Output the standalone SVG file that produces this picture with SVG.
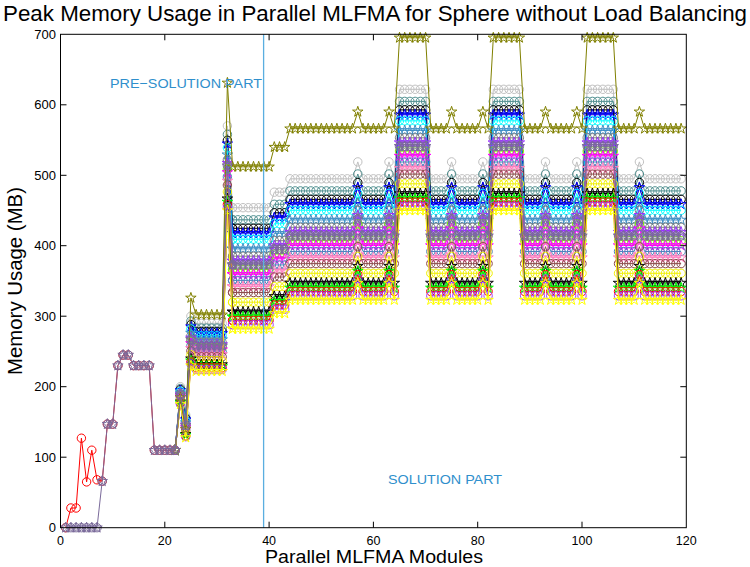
<svg xmlns="http://www.w3.org/2000/svg" xmlns:xlink="http://www.w3.org/1999/xlink" width="750" height="567" viewBox="0 0 750 567">
<style>
  text { font-family: "Liberation Sans", Arial, Helvetica, sans-serif; fill: #000; }
  .tick { font-size: 13px; }
  .xtick { font-size: 12.5px; }
  .axis { fill: none; stroke: #000; stroke-width: 1; }
  .series { fill: none; stroke-width: 1; }
  .mk * { fill: none; stroke-width: 1; }
  .note { font-size: 13.5px; fill: #2f8fcc; }
</style>
<defs>
  <!-- marker glyphs: pentagram and ring, centred on the data point -->
  <path id="pstar" d="M0,-5.5L1.23,-1.7L5.23,-1.7L2,0.65L3.23,4.45L0,2.1L-3.23,4.45L-2,0.65L-5.23,-1.7L-1.23,-1.7Z"/>
  <circle id="ring" r="4.2"/>

  <marker id="k01" class="mk" stroke="#ffff00" markerUnits="userSpaceOnUse" viewBox="-7 -7 14 14" markerWidth="14" markerHeight="14" refX="0" refY="0"><use href="#pstar"/></marker>
  <marker id="k02" class="mk" stroke="#a040ff" markerUnits="userSpaceOnUse" viewBox="-7 -7 14 14" markerWidth="14" markerHeight="14" refX="0" refY="0"><use href="#ring"/></marker>
  <marker id="k03" class="mk" stroke="#ff0000" markerUnits="userSpaceOnUse" viewBox="-7 -7 14 14" markerWidth="14" markerHeight="14" refX="0" refY="0"><use href="#ring"/></marker>
  <marker id="k04" class="mk" stroke="#00ff00" markerUnits="userSpaceOnUse" viewBox="-7 -7 14 14" markerWidth="14" markerHeight="14" refX="0" refY="0"><use href="#pstar"/></marker>
  <marker id="k05" class="mk" stroke="#000000" markerUnits="userSpaceOnUse" viewBox="-7 -7 14 14" markerWidth="14" markerHeight="14" refX="0" refY="0"><use href="#pstar"/></marker>
  <marker id="k06" class="mk" stroke="#f0f000" markerUnits="userSpaceOnUse" viewBox="-7 -7 14 14" markerWidth="14" markerHeight="14" refX="0" refY="0"><use href="#ring"/></marker>
  <marker id="k07" class="mk" stroke="#8c4c4c" markerUnits="userSpaceOnUse" viewBox="-7 -7 14 14" markerWidth="14" markerHeight="14" refX="0" refY="0"><use href="#ring"/></marker>
  <marker id="k08" class="mk" stroke="#ff7fbf" markerUnits="userSpaceOnUse" viewBox="-7 -7 14 14" markerWidth="14" markerHeight="14" refX="0" refY="0"><use href="#pstar"/></marker>
  <marker id="k09" class="mk" stroke="#4f81bd" markerUnits="userSpaceOnUse" viewBox="-7 -7 14 14" markerWidth="14" markerHeight="14" refX="0" refY="0"><use href="#ring"/></marker>
  <marker id="k10" class="mk" stroke="#ff00ff" markerUnits="userSpaceOnUse" viewBox="-7 -7 14 14" markerWidth="14" markerHeight="14" refX="0" refY="0"><use href="#pstar"/></marker>
  <marker id="k11" class="mk" stroke="#7fff00" markerUnits="userSpaceOnUse" viewBox="-7 -7 14 14" markerWidth="14" markerHeight="14" refX="0" refY="0"><use href="#ring"/></marker>
  <marker id="k12" class="mk" stroke="#9933ff" markerUnits="userSpaceOnUse" viewBox="-7 -7 14 14" markerWidth="14" markerHeight="14" refX="0" refY="0"><use href="#pstar"/></marker>
  <marker id="k13" class="mk" stroke="#808080" markerUnits="userSpaceOnUse" viewBox="-7 -7 14 14" markerWidth="14" markerHeight="14" refX="0" refY="0"><use href="#ring"/></marker>
  <marker id="k14" class="mk" stroke="#3d8fc6" markerUnits="userSpaceOnUse" viewBox="-7 -7 14 14" markerWidth="14" markerHeight="14" refX="0" refY="0"><use href="#pstar"/></marker>
  <marker id="k15" class="mk" stroke="#00ffff" markerUnits="userSpaceOnUse" viewBox="-7 -7 14 14" markerWidth="14" markerHeight="14" refX="0" refY="0"><use href="#ring"/></marker>
  <marker id="k16" class="mk" stroke="#0000ff" markerUnits="userSpaceOnUse" viewBox="-7 -7 14 14" markerWidth="14" markerHeight="14" refX="0" refY="0"><use href="#pstar"/></marker>
  <marker id="k17" class="mk" stroke="#000000" markerUnits="userSpaceOnUse" viewBox="-7 -7 14 14" markerWidth="14" markerHeight="14" refX="0" refY="0"><use href="#ring"/></marker>
  <marker id="k18" class="mk" stroke="#4f8f8f" markerUnits="userSpaceOnUse" viewBox="-7 -7 14 14" markerWidth="14" markerHeight="14" refX="0" refY="0"><use href="#ring"/></marker>
  <marker id="k19" class="mk" stroke="#c0c0c0" markerUnits="userSpaceOnUse" viewBox="-7 -7 14 14" markerWidth="14" markerHeight="14" refX="0" refY="0"><use href="#ring"/></marker>
  <marker id="k20" class="mk" stroke="#808000" markerUnits="userSpaceOnUse" viewBox="-7 -7 14 14" markerWidth="14" markerHeight="14" refX="0" refY="0"><use href="#pstar"/></marker>
  <marker id="k21" class="mk" stroke="#7a6a9a" markerUnits="userSpaceOnUse" viewBox="-7 -7 14 14" markerWidth="14" markerHeight="14" refX="0" refY="0"><use href="#ring"/><use href="#pstar"/></marker>

  <!-- baseline profile of the solution phase (modules 33-119); each process is this curve shifted up -->
  <polyline id="lo" points="232.6,328.9 237.8,328.9 243.0,328.9 248.2,328.9 253.5,328.9 258.7,328.9 263.9,328.9 269.1,328.9 274.3,313.4 279.5,313.4 284.7,313.4 290.0,300 295.2,300 300.4,300 305.6,300 310.8,300 316.0,300 321.3,300 326.5,300 331.7,300 336.9,300 342.1,300 347.3,300 352.5,300 357.8,283.1 363.0,300 368.2,300 373.4,300 378.6,300 383.8,300 389.0,283.1 394.3,300 399.5,210.5 404.7,210.5 409.9,210.5 415.1,210.5 420.3,210.5 425.6,210.5 430.8,300 436.0,300 441.2,300 446.4,300 451.6,283.1 456.8,300 462.1,300 467.3,300 472.5,300 477.7,300 482.9,283.1 488.1,300 493.3,210.5 498.6,210.5 503.8,210.5 509.0,210.5 514.2,210.5 519.4,210.5 524.6,300 529.9,300 535.1,300 540.3,300 545.5,283.1 550.7,300 555.9,300 561.1,300 566.4,300 571.6,300 576.8,283.1 582.0,300 587.2,210.5 592.4,210.5 597.6,210.5 602.9,210.5 608.1,210.5 613.3,210.5 618.5,300 623.7,300 628.9,300 634.2,300 639.4,283.1 644.6,300 649.8,300 655.0,300 660.2,300 665.4,300 670.7,300 675.9,300 681.1,300"/>
</defs>

<rect width="750" height="567" fill="#fff"/>

<!-- title and axis labels -->
<text x="375" y="21" font-size="22.3" text-anchor="middle" textLength="744" lengthAdjust="spacingAndGlyphs">Peak Memory Usage in Parallel MLFMA for Sphere without Load Balancing</text>
<text x="374" y="563.2" font-size="17.5" text-anchor="middle" textLength="218" lengthAdjust="spacingAndGlyphs">Parallel MLFMA Modules</text>
<text transform="translate(21.5,281) rotate(-90)" font-size="19.5" text-anchor="middle" textLength="188" lengthAdjust="spacingAndGlyphs">Memory Usage (MB)</text>

<!-- memory curves, one per process -->
<g id="series">
  <g id="s19" class="series" stroke="#c0c0c0" marker-start="url(#k19)" marker-mid="url(#k19)" marker-end="url(#k19)">
    <polyline points="175.2,450.2 180.4,386.7 185.7,414.9 190.9,316.2 196.1,323.3 201.3,323.3 206.5,323.3 211.7,323.3 217.0,323.3 222.2,323.3 227.4,125.9 232.6,207.7"/>
    <use href="#lo" transform="translate(0,-121.2)"/>
  </g>
  <g id="s18" class="series" stroke="#4f8f8f" marker-start="url(#k18)" marker-mid="url(#k18)" marker-end="url(#k18)">
    <polyline points="175.2,450.2 180.4,388.5 185.7,417.2 190.9,321.1 196.1,328.1 201.3,328.1 206.5,328.1 211.7,328.1 217.0,328.1 222.2,328.1 227.4,134.4 232.6,219.8"/>
    <use href="#lo" transform="translate(0,-109.1)"/>
  </g>
  <g id="s17" class="series" stroke="#000000" marker-start="url(#k17)" marker-mid="url(#k17)" marker-end="url(#k17)">
    <polyline points="175.2,450.2 180.4,389.7 185.7,418.7 190.9,324.6 196.1,331.4 201.3,331.4 206.5,331.4 211.7,331.4 217.0,331.4 222.2,331.4 227.4,140.3 232.6,228.3"/>
    <use href="#lo" transform="translate(0,-100.6)"/>
  </g>
  <g id="s16" class="series" stroke="#0000ff" marker-start="url(#k16)" marker-mid="url(#k16)" marker-end="url(#k16)">
    <polyline points="175.2,450.2 180.4,390.4 185.7,419.6 190.9,326.6 196.1,333.4 201.3,333.4 206.5,333.4 211.7,333.4 217.0,333.4 222.2,333.4 227.4,143.7 232.6,233.2"/>
    <use href="#lo" transform="translate(0,-95.7)"/>
  </g>
  <g id="s15" class="series" stroke="#00ffff" marker-start="url(#k15)" marker-mid="url(#k15)" marker-end="url(#k15)">
    <polyline points="175.2,450.2 180.4,391.3 185.7,420.8 190.9,329.0 196.1,335.8 201.3,335.8 206.5,335.8 211.7,335.8 217.0,335.8 222.2,335.8 227.4,147.9 232.6,239.2"/>
    <use href="#lo" transform="translate(0,-89.7)"/>
  </g>
  <g id="s14" class="series" stroke="#3d8fc6" marker-start="url(#k14)" marker-mid="url(#k14)" marker-end="url(#k14)">
    <polyline points="175.2,450.2 180.4,392.7 185.7,422.6 190.9,333.0 196.1,339.6 201.3,339.6 206.5,339.6 211.7,339.6 217.0,339.6 222.2,339.6 227.4,154.7 232.6,248.9"/>
    <use href="#lo" transform="translate(0,-80.0)"/>
  </g>
  <g id="s13" class="series" stroke="#808080" marker-start="url(#k13)" marker-mid="url(#k13)" marker-end="url(#k13)">
    <polyline points="175.2,450.2 180.4,393.7 185.7,423.9 190.9,336.0 196.1,342.5 201.3,342.5 206.5,342.5 211.7,342.5 217.0,342.5 222.2,342.5 227.4,159.7 232.6,256.2"/>
    <use href="#lo" transform="translate(0,-72.7)"/>
  </g>
  <g id="s12" class="series" stroke="#9933ff" marker-start="url(#k12)" marker-mid="url(#k12)" marker-end="url(#k12)">
    <polyline points="175.2,450.2 180.4,394.4 185.7,424.8 190.9,337.9 196.1,344.4 201.3,344.4 206.5,344.4 211.7,344.4 217.0,344.4 222.2,344.4 227.4,163.1 232.6,261.0"/>
    <use href="#lo" transform="translate(0,-67.9)"/>
  </g>
  <g id="s11" class="series" stroke="#7fff00" marker-start="url(#k11)" marker-mid="url(#k11)" marker-end="url(#k11)">
    <polyline points="175.2,450.2 180.4,395.7 185.7,426.4 190.9,341.4 196.1,347.7 201.3,347.7 206.5,347.7 211.7,347.7 217.0,347.7 222.2,347.7 227.4,169.0 232.6,269.5"/>
    <use href="#lo" transform="translate(0,-59.4)"/>
  </g>
  <g id="s10" class="series" stroke="#ff00ff" marker-start="url(#k10)" marker-mid="url(#k10)" marker-end="url(#k10)">
    <polyline points="175.2,450.2 180.4,396.4 185.7,427.3 190.9,343.4 196.1,349.6 201.3,349.6 206.5,349.6 211.7,349.6 217.0,349.6 222.2,349.6 227.4,172.4 232.6,274.4"/>
    <use href="#lo" transform="translate(0,-54.5)"/>
  </g>
  <g id="s09" class="series" stroke="#4f81bd" marker-start="url(#k09)" marker-mid="url(#k09)" marker-end="url(#k09)">
    <polyline points="175.2,450.2 180.4,397.3 185.7,428.5 190.9,345.8 196.1,352.0 201.3,352.0 206.5,352.0 211.7,352.0 217.0,352.0 222.2,352.0 227.4,176.7 232.6,280.4"/>
    <use href="#lo" transform="translate(0,-48.5)"/>
  </g>
  <g id="s08" class="series" stroke="#ff7fbf" marker-start="url(#k08)" marker-mid="url(#k08)" marker-end="url(#k08)">
    <polyline points="175.2,450.2 180.4,398.1 185.7,429.6 190.9,348.3 196.1,354.4 201.3,354.4 206.5,354.4 211.7,354.4 217.0,354.4 222.2,354.4 227.4,180.9 232.6,286.5"/>
    <use href="#lo" transform="translate(0,-42.4)"/>
  </g>
  <g id="s07" class="series" stroke="#8c4c4c" marker-start="url(#k07)" marker-mid="url(#k07)" marker-end="url(#k07)">
    <polyline points="175.2,450.2 180.4,399.0 185.7,430.7 190.9,350.8 196.1,356.8 201.3,356.8 206.5,356.8 211.7,356.8 217.0,356.8 222.2,356.8 227.4,185.1 232.6,292.5"/>
    <use href="#lo" transform="translate(0,-36.4)"/>
  </g>
  <g id="s06" class="series" stroke="#f0f000" marker-start="url(#k06)" marker-mid="url(#k06)" marker-end="url(#k06)">
    <polyline points="175.2,450.2 180.4,400.4 185.7,432.5 190.9,354.7 196.1,360.7 201.3,360.7 206.5,360.7 211.7,360.7 217.0,360.7 222.2,360.7 227.4,191.9 232.6,302.2"/>
    <use href="#lo" transform="translate(0,-26.7)"/>
  </g>
  <g id="s05" class="series" stroke="#000000" marker-start="url(#k05)" marker-mid="url(#k05)" marker-end="url(#k05)">
    <polyline points="175.2,450.2 180.4,401.8 185.7,434.3 190.9,358.7 196.1,364.5 201.3,364.5 206.5,364.5 211.7,364.5 217.0,364.5 222.2,364.5 227.4,198.7 232.6,311.9"/>
    <use href="#lo" transform="translate(0,-17.0)"/>
  </g>
  <g id="s04" class="series" stroke="#00ff00" marker-start="url(#k04)" marker-mid="url(#k04)" marker-end="url(#k04)">
    <polyline points="175.2,450.2 180.4,402.5 185.7,435.2 190.9,360.7 196.1,366.4 201.3,366.4 206.5,366.4 211.7,366.4 217.0,366.4 222.2,366.4 227.4,202.0 232.6,316.8"/>
    <use href="#lo" transform="translate(0,-12.1)"/>
  </g>
  <g id="s03" class="series" stroke="#ff0000" marker-start="url(#k03)" marker-mid="url(#k03)" marker-end="url(#k03)">
    <polyline points="65.7,527.7 70.9,508.0 76.1,508.0 81.4,438.2 86.6,481.9 91.8,450.2 97.0,479.8 102.2,481.2 107.4,424.1 112.7,424.1 117.9,365.6 123.1,355.0 128.3,355.0 133.5,365.6 138.7,365.6 143.9,365.6 149.2,365.6 154.4,450.2 159.6,450.2 164.8,450.2 170.0,450.2 175.2,450.2 180.4,403.1 185.7,435.9 190.9,362.1 196.1,367.8 201.3,367.8 206.5,367.8 211.7,367.8 217.0,367.8 222.2,367.8 227.4,204.6 232.6,320.4"/>
    <use href="#lo" transform="translate(0,-8.5)"/>
  </g>
  <g id="s02" class="series" stroke="#a040ff" marker-start="url(#k02)" marker-mid="url(#k02)" marker-end="url(#k02)">
    <polyline points="175.2,450.2 180.4,403.7 185.7,436.7 190.9,363.9 196.1,369.5 201.3,369.5 206.5,369.5 211.7,369.5 217.0,369.5 222.2,369.5 227.4,207.5 232.6,324.7"/>
    <use href="#lo" transform="translate(0,-4.2)"/>
  </g>
  <g id="s01" class="series" stroke="#ffff00" marker-start="url(#k01)" marker-mid="url(#k01)" marker-end="url(#k01)">
    <polyline points="175.2,450.2 180.4,404.3 185.7,437.5 190.9,365.6 196.1,371.2 201.3,371.2 206.5,371.2 211.7,371.2 217.0,371.2 222.2,371.2 227.4,210.5 232.6,328.9"/>
    <use href="#lo"/>
  </g>
  <g id="s20" class="series" stroke="#808000" marker-start="url(#k20)" marker-mid="url(#k20)" marker-end="url(#k20)">
    <polyline points="175.2,450.2 180.4,397.3 185.7,429.0 190.9,297.9 196.1,314.8 201.3,314.8 206.5,314.8 211.7,314.8 217.0,314.8 222.2,314.8 227.4,82.9 232.6,166.8 237.8,166.8 243.0,166.8 248.2,166.8 253.5,166.8 258.7,166.8 263.9,166.8 269.1,166.8 274.3,147.1 279.5,147.1 284.7,147.1 290.0,128.7 295.2,128.7 300.4,128.7 305.6,128.7 310.8,128.7 316.0,128.7 321.3,128.7 326.5,128.7 331.7,128.7 336.9,128.7 342.1,128.7 347.3,128.7 352.5,128.7 357.8,111.8 363.0,128.7 368.2,128.7 373.4,128.7 378.6,128.7 383.8,128.7 389.0,111.8 394.3,128.7 399.5,37.8 404.7,37.8 409.9,37.8 415.1,37.8 420.3,37.8 425.6,37.8 430.8,128.7 436.0,128.7 441.2,128.7 446.4,128.7 451.6,111.8 456.8,128.7 462.1,128.7 467.3,128.7 472.5,128.7 477.7,128.7 482.9,111.8 488.1,128.7 493.3,37.8 498.6,37.8 503.8,37.8 509.0,37.8 514.2,37.8 519.4,37.8 524.6,128.7 529.9,128.7 535.1,128.7 540.3,128.7 545.5,111.8 550.7,128.7 555.9,128.7 561.1,128.7 566.4,128.7 571.6,128.7 576.8,111.8 582.0,128.7 587.2,37.8 592.4,37.8 597.6,37.8 602.9,37.8 608.1,37.8 613.3,37.8 618.5,128.7 623.7,128.7 628.9,128.7 634.2,128.7 639.4,111.8 644.6,128.7 649.8,128.7 655.0,128.7 660.2,128.7 665.4,128.7 670.7,128.7 675.9,128.7 681.1,128.7"/>
  </g>
  <g id="s21" class="series" stroke="#7a6a9a" marker-start="url(#k21)" marker-mid="url(#k21)" marker-end="url(#k21)">
    <polyline points="65.7,527.7 70.9,527.7 76.1,527.7 81.4,527.7 86.6,527.7 91.8,527.7 97.0,527.7 102.2,481.2 107.4,424.1 112.7,424.1 117.9,365.6 123.1,355.0 128.3,355.0 133.5,365.6 138.7,365.6 143.9,365.6 149.2,365.6 154.4,450.2 159.6,450.2 164.8,450.2 170.0,450.2 175.2,450.2 180.4,395.0 185.7,425.5 190.9,339.4 196.1,345.8 201.3,345.8 206.5,345.8 211.7,345.8 217.0,345.8 222.2,345.8 227.4,165.7 232.6,264.7"/>
    <use href="#lo" transform="translate(0,-64.2)"/>
  </g>
</g>

<!-- phase boundary and phase captions -->
<g id="phase">
  <line x1="263.6" y1="34.3" x2="263.6" y2="527.7" stroke="#5aaee0" stroke-width="1.3"/>
  <text class="note" x="110" y="88.3" textLength="152" lengthAdjust="spacingAndGlyphs">PRE−SOLUTION PART</text>
  <text class="note" x="388" y="483.5" textLength="114" lengthAdjust="spacingAndGlyphs">SOLUTION PART</text>
</g>

<!-- axes box, ticks and tick labels -->
<g id="axes">
  <rect class="axis" x="60.5" y="34.3" width="625.8" height="493.4"/>
  <path class="axis" d="M164.8,527.7V521.7M269.1,527.7V521.7M373.4,527.7V521.7M477.7,527.7V521.7M582.0,527.7V521.7
    M164.8,34.3V40.3M269.1,34.3V40.3M373.4,34.3V40.3M477.7,34.3V40.3M582.0,34.3V40.3
    M60.5,457.2H66.5M60.5,386.7H66.5M60.5,316.2H66.5M60.5,245.7H66.5M60.5,175.3H66.5M60.5,104.8H66.5
    M686.3,457.2H680.3M686.3,386.7H680.3M686.3,316.2H680.3M686.3,245.7H680.3M686.3,175.3H680.3M686.3,104.8H680.3"/>
  <g class="xtick" text-anchor="middle">
    <text x="60.5" y="544.5">0</text>
    <text x="164.8" y="544.5">20</text>
    <text x="269.1" y="544.5">40</text>
    <text x="373.4" y="544.5">60</text>
    <text x="477.7" y="544.5">80</text>
    <text x="582.0" y="544.5">100</text>
    <text x="686.3" y="544.5">120</text>
  </g>
  <g class="tick" text-anchor="end">
    <text x="56" y="532.3">0</text>
    <text x="56" y="461.8">100</text>
    <text x="56" y="391.3">200</text>
    <text x="56" y="320.8">300</text>
    <text x="56" y="250.3">400</text>
    <text x="56" y="179.9">500</text>
    <text x="56" y="109.4">600</text>
    <text x="56" y="38.9">700</text>
  </g>
</g>
</svg>
